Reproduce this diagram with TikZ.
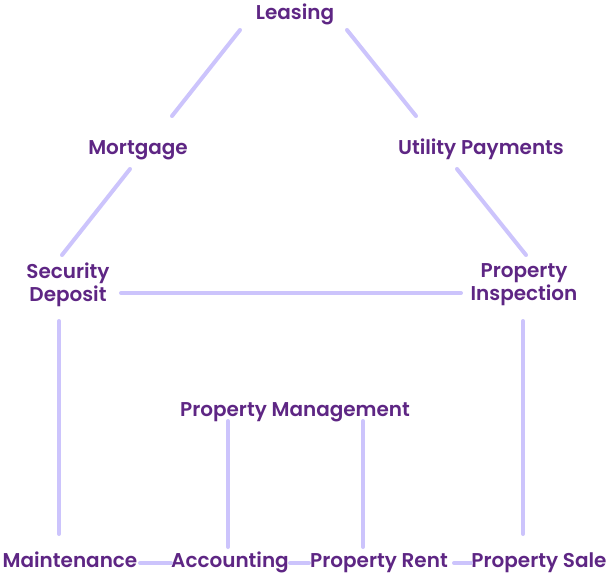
\documentclass[tikz,border=0pt]{standalone}
\usepackage{fontspec}
\setmainfont{Poppins}[UprightFont=* SemiBold, BoldFont=* Bold]
\definecolor{labelpurple}{RGB}{94,38,132}
\definecolor{linklilac}{RGB}{204,196,252}

\begin{document}
\begin{tikzpicture}[x=0.025cm, y=-0.025cm]
  \tikzset{item/.style={text=labelpurple, inner sep=0pt, align=center, font=\fontsize{14.2}{16.6}\selectfont},
           link/.style={draw=linklilac, line width=0.1cm, line cap=round}}
  \useasboundingbox (0,0) rectangle (608,574);
  \node[item, anchor=base] (lease)   at (295,19)  {Leasing};
  \node[item, anchor=base] (mort)    at (138,154) {Mortgage};
  \node[item, anchor=base] (util)    at (481,154) {Utility Payments};
  \node[item]              (secdep)  at (68,284.5)  {Security\\Deposit};
  \node[item]              (inspect) at (524,284.5) {Property\\Inspection};
  \node[item, anchor=base] (pm)      at (295,416) {Property Management};
  \node[item, anchor=base] (maint)   at (70,567)  {Maintenance};
  \node[item, anchor=base] (acct)    at (230,567) {Accounting};
  \node[item, anchor=base] (rent)    at (379,567) {Property Rent};
  \node[item, anchor=base] (sale)    at (539,567) {Property Sale};
  % roof
  \draw[link] ([shift={(-55,11)}]lease.base) -- ([shift={(34,-38)}]mort.base);
  \draw[link] ([shift={(52,11)}]lease.base) -- ([shift={(-65,-38)}]util.base);
  \draw[link] ([shift={(-8,15)}]mort.base) -- ([shift={(-6,-29.5)}]secdep.center);
  \draw[link] ([shift={(-24,15)}]util.base) -- ([shift={(2,-29.5)}]inspect.center);
  \draw[link] ([shift={(53,8.5)}]secdep.center) -- ([shift={(-63,8.5)}]inspect.center);
  % walls
  \draw[link] ([shift={(-9,36.5)}]secdep.center) -- ([shift={(-11,-33)}]maint.base);
  \draw[link] ([shift={(-1,36.5)}]inspect.center) -- ([shift={(-16,-33)}]sale.base);
  \draw[link] ([shift={(-67,5)}]pm.base) -- ([shift={(-2,-20)}]acct.base);
  \draw[link] ([shift={(68,5)}]pm.base) -- ([shift={(-16,-20)}]rent.base);
  % floor
  \draw[link] ([shift={(70,-4)}]maint.base) -- ([shift={(-59,-4)}]acct.base);
  \draw[link] ([shift={(60,-4)}]acct.base) -- ([shift={(-70,-4)}]rent.base);
  \draw[link] ([shift={(75,-4)}]rent.base) -- ([shift={(-68,-4)}]sale.base);
\end{tikzpicture}
\end{document}
